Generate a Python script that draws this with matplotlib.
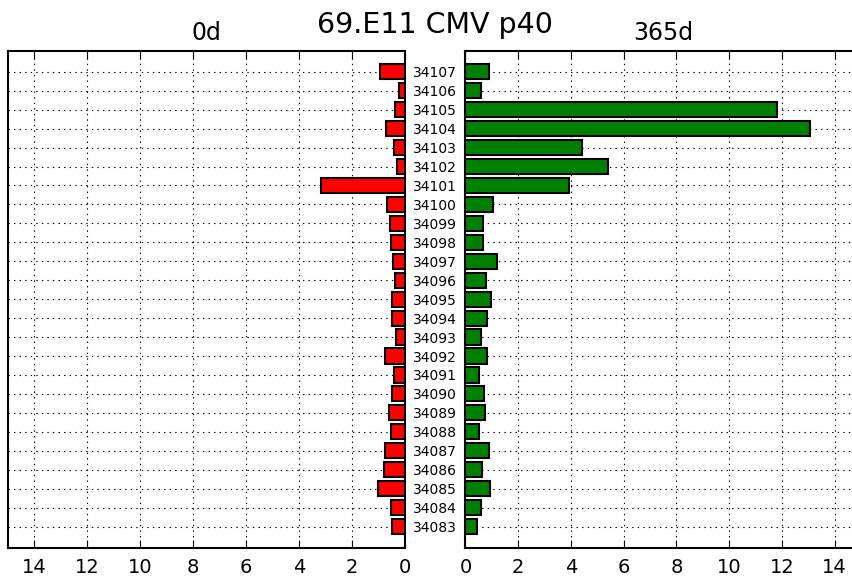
import numpy as np
import matplotlib
matplotlib.use('Agg')
import matplotlib.pyplot as plt

# sample ids, bottom to top
ids = [34083, 34084, 34085, 34086, 34087, 34088, 34089, 34090, 34091, 34092,
       34093, 34094, 34095, 34096, 34097, 34098, 34099, 34100, 34101, 34102,
       34103, 34104, 34105, 34106, 34107]
# 0d values (left, red)
day0 = [0.48, 0.53, 1.01, 0.78, 0.74, 0.54, 0.60, 0.49, 0.42, 0.74,
        0.34, 0.50, 0.48, 0.38, 0.47, 0.53, 0.57, 0.67, 3.19, 0.31,
        0.40, 0.73, 0.38, 0.24, 0.93]
# 365d values (right, green)
day365 = [0.42, 0.57, 0.93, 0.64, 0.90, 0.53, 0.73, 0.70, 0.53, 0.82,
          0.60, 0.80, 0.97, 0.78, 1.19, 0.67, 0.67, 1.03, 3.92, 5.42,
          4.42, 13.07, 11.81, 0.57, 0.88]

y = np.arange(len(ids))

plt.rcParams['lines.scale_dashes'] = False

fig = plt.figure(figsize=(8.53, 5.77), dpi=100)
ax1 = fig.add_axes([0.0094, 0.0497, 0.4654, 0.862])
ax2 = fig.add_axes([0.5457, 0.0497, 0.4637, 0.862])

ax1.barh(y, day0, height=0.8, color='red', edgecolor='black', linewidth=1.5, zorder=3)
ax2.barh(y, day365, height=0.8, color='green', edgecolor='black', linewidth=1.5, zorder=3)

fs = 14
for ax in (ax1, ax2):
    ax.set_xlim(0, 15)
    ax.set_ylim(-1.15, 25.1)
    ax.set_xticks(np.arange(0, 15, 2))
    ax.set_yticks(y)
    ax.grid(True, color='black', linestyle=(0, (1, 3)), linewidth=0.8)
    ax.set_axisbelow(True)
    ax.tick_params(axis='x', direction='in', top=True, bottom=True, length=6, labelsize=fs, pad=7)
    ax.tick_params(axis='y', length=0)
    for sp in ax.spines.values():
        sp.set_linewidth(1.5)

ax1.invert_xaxis()
ax1.set_yticklabels([])
ax2.set_yticklabels([str(i) for i in ids], ha='center', fontsize=10)
ax2.tick_params(axis='y', pad=22)

ax1.set_title('0d', fontsize=17, pad=8)
ax2.set_title('365d', fontsize=17, pad=8)
fig.text(0.51, 1 - 33 / 577, '69.E11 CMV p40', ha='center', va='baseline', fontsize=20.5)

fig.savefig('out.png', dpi=100)
